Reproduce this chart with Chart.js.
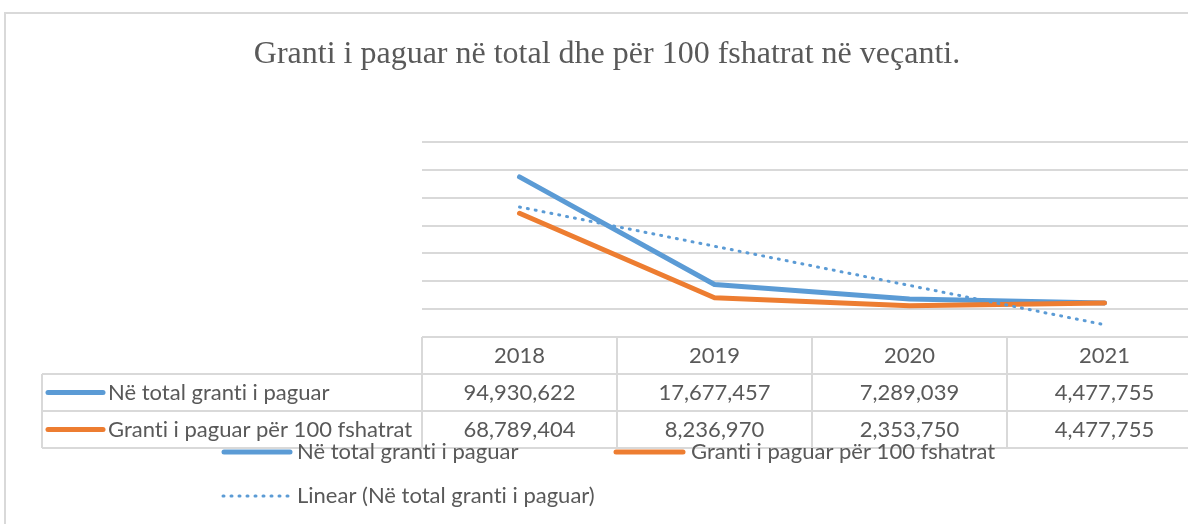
<!DOCTYPE html>
<html>
<head>
<meta charset="utf-8">
<title>Granti i paguar</title>
<script src="https://cdn.jsdelivr.net/npm/chart.js@4.4.0/dist/chart.umd.min.js"></script>
<style>
    html, body { margin: 0; padding: 0; background: #fff; overflow: hidden; }
    #wrap { position: relative; width: 1188px; height: 524px; overflow: hidden; }
    #frame { position: absolute; left: 4px; top: 12px; width: 1300px; height: 600px; border: 2px solid #d9d9d9; box-sizing: border-box; }
    #box { position: absolute; left: 0; top: 0; width: 1220px; height: 524px; }
</style>
</head>
<body>
<div id="wrap">
    <div id="frame"></div>
    <div id="box"><canvas id="grant"></canvas></div>
</div>
<script>
// data
var years = ['2018', '2019', '2020', '2021'];
var totalGrant = [94930622, 17677457, 7289039, 4477755];
var villageGrant = [68789404, 8236970, 2353750, 4477755];
var seriesNames = ['Në total granti i paguar', 'Granti i paguar për 100 fshatrat'];
var trendName = 'Linear (Në total granti i paguar)';
var chartTitle = 'Granti i paguar në total dhe për 100 fshatrat në veçanti.';
var yMin = -20000000, yMax = 120000000, yStep = 20000000;

var BLUE = '#5B9BD5', ORANGE = '#ED7D31', TEXT = '#595959', GRID = '#d9d9d9';
var FONT = 'Lato, "Open Sans", sans-serif';

// excel style linear trendline (least squares on x = 1..n)
function linearTrend(vals) {
    var n = vals.length, sx = 0, sy = 0, sxy = 0, sxx = 0;
    for (var i = 0; i < n; i++) {
        var x = i + 1;
        sx += x; sy += vals[i]; sxy += x * vals[i]; sxx += x * x;
    }
    var b = (n * sxy - sx * sy) / (n * sxx - sx * sx);
    var a = (sy - b * sx) / n;
    return vals.map(function (v, i) { return a + b * (i + 1); });
}
var totalTrend = linearTrend(totalGrant);

function fmt(v) { return v.toLocaleString('en-US'); }

function keyLine(ctx, x1, x2, y, color, dotted) {
    ctx.save();
    ctx.strokeStyle = color;
    ctx.lineCap = 'round';
    if (dotted) {
        ctx.lineWidth = 3;
        ctx.setLineDash([1, 7]);
    } else {
        ctx.lineWidth = 5;
    }
    ctx.beginPath();
    ctx.moveTo(x1, y);
    ctx.lineTo(x2, y);
    ctx.stroke();
    ctx.restore();
}

var tablePlugin = {
    id: 'dataTable',
    afterDraw: function (chart) {
        var ctx = chart.ctx;
        var area = chart.chartArea;
        var colW = (area.right - area.left) / years.length;
        var top = area.bottom, rowH = 37, labelLeft = 42;

        // title
        ctx.save();
        ctx.fillStyle = TEXT;
        ctx.font = '32px "Liberation Serif", "Times New Roman", serif';
        ctx.textAlign = 'center';
        ctx.textBaseline = 'middle';
        ctx.fillText(chartTitle, 607, 55);
        ctx.restore();

        // table grid
        ctx.save();
        ctx.strokeStyle = GRID;
        ctx.lineWidth = 2;
        ctx.beginPath();
        ctx.moveTo(area.left, top); ctx.lineTo(area.right, top);
        for (var r = 1; r <= 3; r++) {
            ctx.moveTo(labelLeft, top + r * rowH);
            ctx.lineTo(area.right, top + r * rowH);
        }
        for (var c = 0; c <= years.length; c++) {
            var cx = area.left + c * colW;
            ctx.moveTo(cx, top); ctx.lineTo(cx, top + 3 * rowH);
        }
        ctx.moveTo(labelLeft, top + rowH); ctx.lineTo(labelLeft, top + 3 * rowH);
        ctx.stroke();
        ctx.restore();

        // table text
        var x = chart.scales.x;
        ctx.save();
        ctx.fillStyle = TEXT;
        ctx.font = '22px ' + FONT;
        if ('textRendering' in ctx) ctx.textRendering = 'optimizeSpeed';
        ctx.textAlign = 'center';
        ctx.textBaseline = 'middle';
        years.forEach(function (yr, i) {
            var px = x.getPixelForValue(i);
            ctx.fillText(yr, px, top + rowH * 0.5);
            ctx.fillText(fmt(totalGrant[i]), px, top + rowH * 1.5);
            ctx.fillText(fmt(villageGrant[i]), px, top + rowH * 2.5);
        });
        ctx.textAlign = 'left';
        keyLine(ctx, 48, 103, top + rowH * 1.5, BLUE);
        ctx.fillText(seriesNames[0], 108, top + rowH * 1.5);
        keyLine(ctx, 48, 103, top + rowH * 2.5, ORANGE);
        ctx.fillText(seriesNames[1], 108, top + rowH * 2.5);

        // legend under the table
        keyLine(ctx, 224, 290, 452, BLUE);
        ctx.fillText(seriesNames[0], 297, 452);
        keyLine(ctx, 616, 683, 452, ORANGE);
        ctx.fillText(seriesNames[1], 691, 452);
        keyLine(ctx, 223, 290, 496, BLUE, true);
        ctx.fillText(trendName, 297, 496);
        ctx.restore();
    }
};

var grant = document.getElementById('grant');
var grant_chart = new Chart(grant, {
    type: 'line',
    data: {
        labels: years,
        datasets: [
            {
                label: trendName,
                data: totalTrend,
                borderColor: BLUE,
                borderWidth: 3,
                borderDash: [1, 7],
                borderCapStyle: 'round',
                pointRadius: 0,
                fill: false,
                order: 0
            },
            {
                label: seriesNames[1],
                data: villageGrant,
                borderColor: ORANGE,
                borderWidth: 5,
                borderCapStyle: 'round',
                borderJoinStyle: 'round',
                pointRadius: 0,
                fill: false,
                order: 1
            },
            {
                label: seriesNames[0],
                data: totalGrant,
                borderColor: BLUE,
                borderWidth: 5,
                borderCapStyle: 'round',
                borderJoinStyle: 'round',
                pointRadius: 0,
                fill: false,
                order: 2
            }
        ]
    },
    options: {
        responsive: true,
        maintainAspectRatio: false,
        animation: false,
        layout: { padding: { left: 422, right: 18, top: 142, bottom: 187 } },
        plugins: {
            legend: { display: false },
            title: { display: false },
            tooltip: { enabled: false }
        },
        scales: {
            x: {
                display: false,
                offset: true
            },
            y: {
                min: yMin,
                max: yMax,
                ticks: { display: false, stepSize: yStep },
                grid: { color: GRID, lineWidth: 2, drawTicks: false },
                border: { display: false },
                afterFit: function (s) { s.width = 0; }
            }
        }
    },
    plugins: [tablePlugin]
});
</script>
</body>
</html>
